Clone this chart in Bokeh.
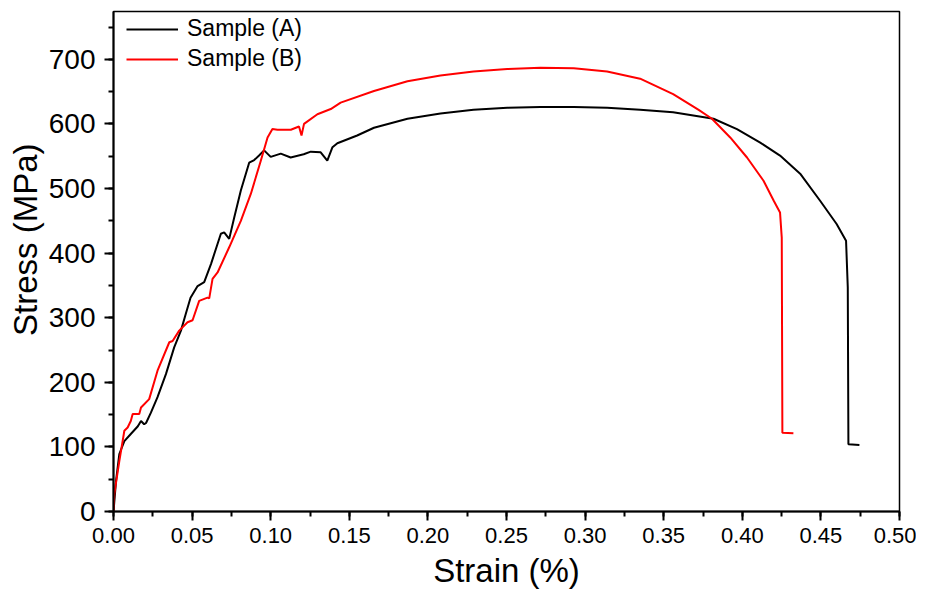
from bokeh.plotting import figure
from bokeh.models import SingleIntervalTicker, PrintfTickFormatter, Range1d, Title
from bokeh.embed import file_html
from bokeh.resources import INLINE

# Sample (A) – black curve
strain_a = [0.0, 0.0016, 0.0037, 0.0069, 0.011, 0.0155, 0.0175, 0.0195, 0.0207, 0.0238,
            0.028, 0.0334, 0.0386, 0.0429, 0.046, 0.049, 0.0535, 0.0577, 0.062, 0.0683,
            0.0704, 0.0736, 0.0768, 0.081, 0.0863, 0.0895, 0.0926, 0.0958, 0.100, 0.1064,
            0.1127, 0.121, 0.1255, 0.1318, 0.136, 0.1393, 0.1424, 0.155, 0.1657, 0.187,
            0.208, 0.229, 0.2505, 0.2716, 0.2928, 0.314, 0.335, 0.356, 0.3817, 0.3966,
            0.4114, 0.424, 0.4368, 0.4495, 0.460, 0.466, 0.4671, 0.4675, 0.4745]
stress_a = [0, 47, 89, 109, 120, 132, 140, 135, 137, 153,
            177, 213, 254, 280, 306, 331, 349, 355, 383, 430,
            432, 422, 455, 497, 540, 544, 551, 559, 549, 554,
            548, 553, 557, 556, 543, 564, 570, 582, 594, 608,
            616, 622, 625, 626, 626, 625, 622, 618, 608, 592,
            571, 551, 523, 481, 445, 419, 347, 104, 103]

# Sample (B) – red curve
strain_b = [0.0, 0.0005, 0.0037, 0.0069, 0.009, 0.011, 0.0122, 0.0164, 0.0175, 0.0227,
            0.028, 0.0355, 0.0376, 0.0418, 0.0471, 0.0503, 0.0545, 0.0598, 0.0609, 0.063,
            0.0662, 0.0736, 0.081, 0.0874, 0.0937, 0.098, 0.1011, 0.1043, 0.1128, 0.118,
            0.1196, 0.1212, 0.1297, 0.1382, 0.1445, 0.1657, 0.187, 0.208, 0.229, 0.2505,
            0.2716, 0.2928, 0.314, 0.335, 0.356, 0.372, 0.3807, 0.3923, 0.403, 0.4135,
            0.420, 0.424, 0.4251, 0.4255, 0.4325]
stress_b = [0, 27, 78, 125, 130, 140, 151, 151, 161, 174,
            218, 262, 264, 280, 293, 296, 326, 331, 330, 360,
            370, 409, 450, 492, 543, 579, 592, 591, 591, 596,
            582, 600, 615, 623, 633, 651, 666, 675, 681, 685,
            687, 686, 681, 670, 646, 622, 608, 579, 548, 512,
            481, 463, 424, 122, 121]

labels = ["Sample (A)", "Sample (B)"]
colors = ["black", "#ff0000"]
x_title = "Strain (%)"
y_title = "Stress (MPa)"

FONT = "Liberation Sans"

p = figure(width=916, height=594, output_backend="svg", toolbar_location=None,
           x_range=Range1d(0, 0.5), y_range=Range1d(0, 774),
           min_border_left=113, min_border_right=17, min_border_top=11, min_border_bottom=83)

p.line(strain_a, stress_a, line_color=colors[0], line_width=2, legend_label=labels[0])
p.line(strain_b, stress_b, line_color=colors[1], line_width=2, legend_label=labels[1])

p.grid.visible = False
p.outline_line_color = "black"
p.outline_line_width = 1.5
p.background_fill_color = "white"

p.xaxis.ticker = SingleIntervalTicker(interval=0.05, num_minor_ticks=2)
p.yaxis.ticker = SingleIntervalTicker(interval=100, num_minor_ticks=2)
p.xaxis.formatter = PrintfTickFormatter(format="%.2f")
p.yaxis.formatter = PrintfTickFormatter(format="%d")

for ax in (p.xaxis[0], p.yaxis[0]):
    ax.axis_line_width = 2
    ax.major_tick_line_width = 2
    ax.minor_tick_line_width = 2
    ax.major_tick_out = 9
    ax.major_tick_in = 0
    ax.minor_tick_out = 5
    ax.minor_tick_in = 0
    ax.major_label_text_font = FONT
    ax.axis_label_text_font = FONT
    ax.axis_label_text_font_style = "normal"
    ax.axis_label_text_font_size = "33px"
    ax.axis_label_text_color = "black"
    ax.major_label_text_color = "black"

p.xaxis.axis_label = x_title
p.xaxis.major_label_text_font_size = "22px"
p.yaxis.major_label_text_font_size = "28px"
p.xaxis.major_label_standoff = 7
p.yaxis.major_label_standoff = 9
p.xaxis.axis_label_standoff = 6

# y-axis title placed slightly above centre, as in the reference
yt = Title(text=y_title, align="right", offset=132, standoff=4,
           text_font=FONT, text_font_size="33px", text_font_style="normal",
           text_color="black")
p.add_layout(yt, "left")

leg = p.legend[0]
leg.location = (13, 439)
leg.margin = 0
leg.padding = 0
leg.border_line_color = None
leg.background_fill_alpha = 0
leg.label_text_font = FONT
leg.label_text_font_size = "23px"
leg.label_text_color = "black"
leg.glyph_width = 52
leg.glyph_height = 26
leg.label_standoff = 9
leg.spacing = 3
leg.label_height = 26

open("out.html", "w").write(file_html(p, INLINE))
